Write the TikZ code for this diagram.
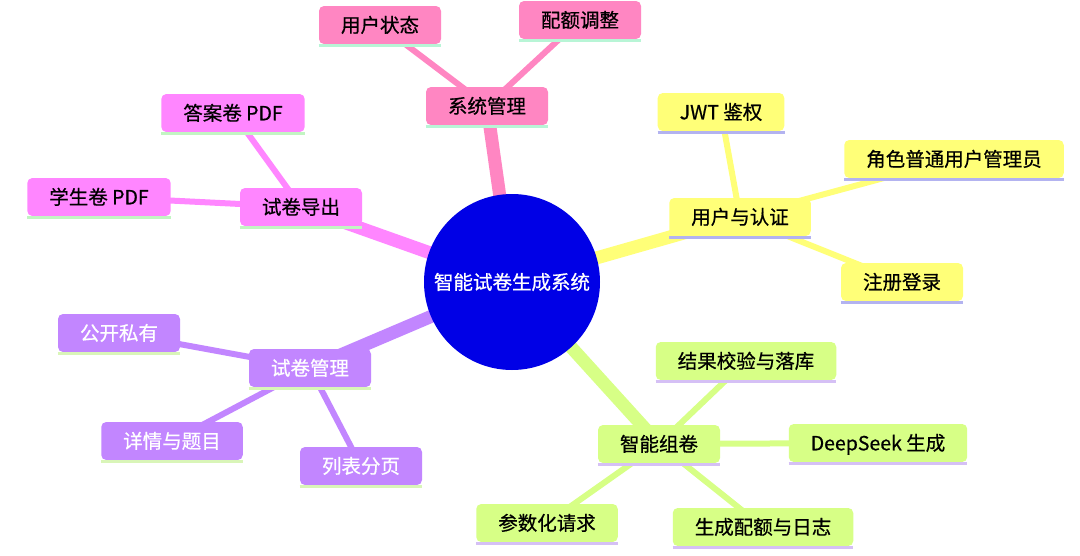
\documentclass[tikz,border=0pt]{standalone}
\usepackage{fontspec}
\setmainfont{Noto Sans CJK SC}[FakeBold=0.6]
\usetikzlibrary{backgrounds}
\definecolor{rootc}{HTML}{0000E6}
\definecolor{pinkS}{HTML}{FF86C2}\definecolor{pinkU}{HTML}{B8F5D6}
\definecolor{magS}{HTML}{FF86FF}\definecolor{magU}{HTML}{C2F5C2}
\definecolor{yelS}{HTML}{FFFF78}\definecolor{yelU}{HTML}{B3B3F0}
\definecolor{purS}{HTML}{C286FF}\definecolor{purU}{HTML}{D9F5B8}
\definecolor{grnS}{HTML}{D7FF86}\definecolor{grnU}{HTML}{D5C0F5}
\tikzset{
  mm/.style={rectangle, rounded corners=5pt, minimum height=38pt, inner xsep=22pt, inner ysep=0pt,
    font=\fontsize{19.5}{21}\selectfont, text height=17pt, text depth=2.4pt},
  rootnode/.style={circle, fill=rootc, minimum size=176pt, inner sep=0pt, text=white,
    font=\fontsize{19.5}{21}\selectfont},
  pinknode/.style={mm, fill=pinkS, text=black},
  magnode/.style={mm, fill=magS, text=black},
  yelnode/.style={mm, fill=yelS, text=black},
  purnode/.style={mm, fill=purS, text=white},
  grnnode/.style={mm, fill=grnS, text=black},
  lvlone/.style={line width=13pt},
  lvltwo/.style={line width=6pt},
  uline/.style={line width=3pt},
}
\begin{document}
\begin{tikzpicture}[x=1pt,y=-1pt]
\useasboundingbox (0,0) rectangle (1080,555);
% root
\node[rootnode] (root) at (512,282) {智能试卷生成系统};
% system management
\node[pinknode] (sys) at (487,106) {系统管理};
\node[pinknode] (s1) at (380,25) {用户状态};
\node[pinknode] (s2) at (580,20) {配额调整};
% export
\node[magnode] (exp) at (301,207) {试卷导出};
\node[magnode] (e1) at (233,113) {答案卷 PDF};
\node[magnode] (e2) at (99,197) {学生卷 PDF};
% auth
\node[yelnode] (auth) at (740,217) {用户与认证};
\node[yelnode] (a1) at (721,112) {JWT 鉴权};
\node[yelnode] (a2) at (954,159) {角色普通用户管理员};
\node[yelnode] (a3) at (902,282) {注册登录};
% paper management
\node[purnode] (mgmt) at (310,368) {试卷管理};
\node[purnode] (m1) at (119,333) {公开私有};
\node[purnode] (m2) at (172,441) {详情与题目};
\node[purnode] (m3) at (361,466) {列表分页};
% generation
\node[grnnode] (gen) at (659,444) {智能组卷};
\node[grnnode] (g1) at (746,361) {结果校验与落库};
\node[grnnode] (g2) at (878,443) {DeepSeek 生成};
\node[grnnode] (g3) at (547,523) {参数化请求};
\node[grnnode] (g4) at (763,527) {生成配额与日志};
% underlines
\foreach \n in {sys,s1,s2} \draw[uline,pinkU] ([yshift=-1.5pt]\n.south west) -- ([yshift=-1.5pt]\n.south east);
\foreach \n in {exp,e1,e2} \draw[uline,magU] ([yshift=-1.5pt]\n.south west) -- ([yshift=-1.5pt]\n.south east);
\foreach \n in {auth,a1,a2,a3} \draw[uline,yelU] ([yshift=-1.5pt]\n.south west) -- ([yshift=-1.5pt]\n.south east);
\foreach \n in {mgmt,m1,m2,m3} \draw[uline,purU] ([yshift=-1.5pt]\n.south west) -- ([yshift=-1.5pt]\n.south east);
\foreach \n in {gen,g1,g2,g3,g4} \draw[uline,grnU] ([yshift=-1.5pt]\n.south west) -- ([yshift=-1.5pt]\n.south east);
% edges
\begin{scope}[on background layer]
\fill[white] (0,0) rectangle (1080,555);
\draw[lvlone,pinkS] (root.center) -- (sys.center);
\draw[lvlone,magS] (root.center) -- (exp.center);
\draw[lvlone,yelS] (root.center) -- (auth.center);
\draw[lvlone,purS] (root.center) -- (mgmt.center);
\draw[lvlone,grnS] (root.center) -- (gen.center);
\draw[lvltwo,pinkS] (sys.center) -- (s1.center);
\draw[lvltwo,pinkS] (sys.center) -- (s2.center);
\draw[lvltwo,magS] (exp.center) -- (e1.center);
\draw[lvltwo,magS] (exp.center) -- (e2.center);
\draw[lvltwo,yelS] (auth.center) -- (a1.center);
\draw[lvltwo,yelS] (auth.center) -- (a2.center);
\draw[lvltwo,yelS] (auth.center) -- (a3.center);
\draw[lvltwo,purS] (mgmt.center) -- (m1.center);
\draw[lvltwo,purS] (mgmt.center) -- (m2.center);
\draw[lvltwo,purS] (mgmt.center) -- (m3.center);
\draw[lvltwo,grnS] (gen.center) -- (g1.center);
\draw[lvltwo,grnS] (gen.center) -- (g2.center);
\draw[lvltwo,grnS] (gen.center) -- (g3.center);
\draw[lvltwo,grnS] (gen.center) -- (g4.center);
\end{scope}
\end{tikzpicture}
\end{document}
